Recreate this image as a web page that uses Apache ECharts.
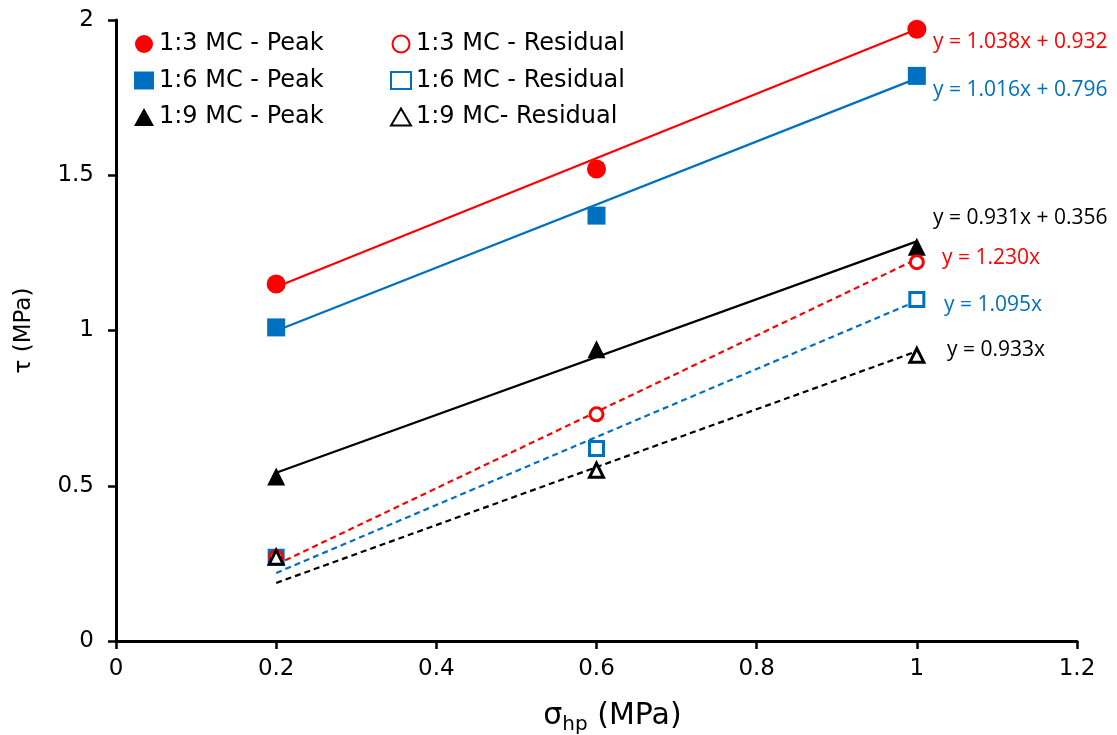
<!DOCTYPE html>
<html><head><meta charset="utf-8">
<script src="https://cdn.jsdelivr.net/npm/echarts@6/dist/echarts.min.js"></script>
<style>html,body{margin:0;padding:0;background:#fff}#c{width:1117px;height:735px}</style>
</head><body><div id="c"></div>
<script>
const xs = [0.2, 0.6, 1.0];
const peak13 = [1.15, 1.52, 1.97];
const peak16 = [1.01, 1.37, 1.82];
const peak19 = [0.53, 0.94, 1.27];
const res13 = [0.27, 0.73, 1.22];
const res16 = [0.27, 0.62, 1.10];
const res19 = [0.27, 0.55, 0.92];
// trendline endpoints (x = 0.2 and x = 1.0)
const trendX = [0.2, 1.0];
const trendPeak13 = [1.140, 1.970];
const trendPeak16 = [0.999, 1.812];
const trendPeak19 = [0.542, 1.287];
const trendRes13 = [0.246, 1.230];
const trendRes16 = [0.219, 1.095];
const trendRes19 = [0.187, 0.933];
const equations = ['y = 1.038x + 0.932','y = 1.016x + 0.796','y = 0.931x + 0.356','y = 1.230x','y = 1.095x','y = 0.933x'];
const xTicks = [0, 1.2, 0.2];
const yTicks = [0, 2, 0.5];

const RED = '#FF0000', BLUE = '#0070C0', BLACK = '#000000';
const FONT = 'DejaVu Sans';
const EQFONT = 'Open Sans';
const pair = (a, b) => a.map((v, i) => [v, b[i]]);

function scatter(name, data, symbol, size, color, hollow) {
  return {
    name, type: 'scatter', data: pair(xs, data), symbol, symbolSize: size, z: 5,
    itemStyle: hollow ? {color: '#fff', borderColor: color, borderWidth: 3, opacity: 1} : {color: color, opacity: 1}
  };
}
function trend(data, color, dashed) {
  return {
    type: 'line', data: pair(trendX, data), showSymbol: false, symbol: 'none', silent: true, z: 3,
    lineStyle: {color, width: 2.2, type: dashed ? [6, 4] : 'solid'}
  };
}

const chart = echarts.init(document.getElementById('c'));
const eq = (t, x, y, c) => ({type: 'text', x: x, y: y, z: 10,
  style: {text: t, fill: c, font: '21px "' + EQFONT + '"', verticalAlign: 'middle', align: 'left'}});
const legendText = {fontSize: 24, fontFamily: FONT, color: BLACK};
chart.setOption({
  animation: false,
  grid: {left: 116, right: 40, top: 20, bottom: 94, outerBoundsMode: 'none', containLabel: false},
  xAxis: {
    type: 'value', min: xTicks[0], max: xTicks[1], interval: xTicks[2],
    axisLine: {lineStyle: {color: BLACK, width: 3}},
    axisTick: {show: true, length: 8, lineStyle: {width: 2.5, color: BLACK}},
    splitLine: {show: false},
    axisLabel: {color: BLACK, fontSize: 23, fontFamily: FONT, margin: 17},
    name: '{a|σ}{s|hp}{a| (MPa)}', nameLocation: 'middle', nameGap: 57,
    nameTextStyle: {padding: [0, 0, 0, 32], rich: {
      a: {fontSize: 30, fontFamily: FONT, color: BLACK},
      s: {fontSize: 20, fontFamily: FONT, color: BLACK, padding: [17, 0, 0, 0]}
    }}
  },
  yAxis: {
    type: 'value', min: yTicks[0], max: yTicks[1], interval: yTicks[2],
    axisLine: {show: true, lineStyle: {color: BLACK, width: 3}},
    axisTick: {show: true, length: 8, lineStyle: {width: 2.5, color: BLACK}},
    splitLine: {show: false},
    axisLabel: {color: BLACK, fontSize: 23, fontFamily: FONT, margin: 22},
    name: 'τ (MPa)', nameLocation: 'middle', nameGap: 80, nameRotate: 90,
    nameTextStyle: {fontSize: 23, fontFamily: FONT, color: BLACK}
  },
  legend: [
    {data: ['1:3 MC - Peak', '1:6 MC - Peak', '1:9 MC - Peak'], orient: 'vertical', left: 134, top: 32, padding: 0,
     itemWidth: 20, itemHeight: 18, itemGap: 12.5, textStyle: legendText},
    {data: ['1:3 MC - Residual', '1:6 MC - Residual', '1:9 MC- Residual'], orient: 'vertical', left: 390, top: 32, padding: 0,
     itemWidth: 20, itemHeight: 17, itemGap: 12.5, textStyle: legendText}
  ],
  series: [
    trend(trendPeak13, RED, false),
    trend(trendPeak16, BLUE, false),
    trend(trendPeak19, BLACK, false),
    trend(trendRes13, RED, true),
    trend(trendRes16, BLUE, true),
    trend(trendRes19, BLACK, true),
    scatter('1:3 MC - Peak', peak13, 'circle', 19, RED, false),
    scatter('1:6 MC - Peak', peak16, 'rect', 18, BLUE, false),
    scatter('1:9 MC - Peak', peak19, 'triangle', 18, BLACK, false),
    scatter('1:6 MC - Residual', res16, 'rect', 14, BLUE, true),
    scatter('1:3 MC - Residual', res13, 'circle', 13, RED, true),
    scatter('1:9 MC- Residual', res19, 'triangle', 14, BLACK, true)
  ],
  graphic: [
    eq(equations[0], 933, 42, RED),
    eq(equations[1], 933, 90, BLUE),
    eq(equations[2], 933, 218, BLACK),
    eq(equations[3], 942, 258, RED),
    eq(equations[4], 944, 305, BLUE),
    eq(equations[5], 947, 350, BLACK)
  ]
});
</script></body></html>
